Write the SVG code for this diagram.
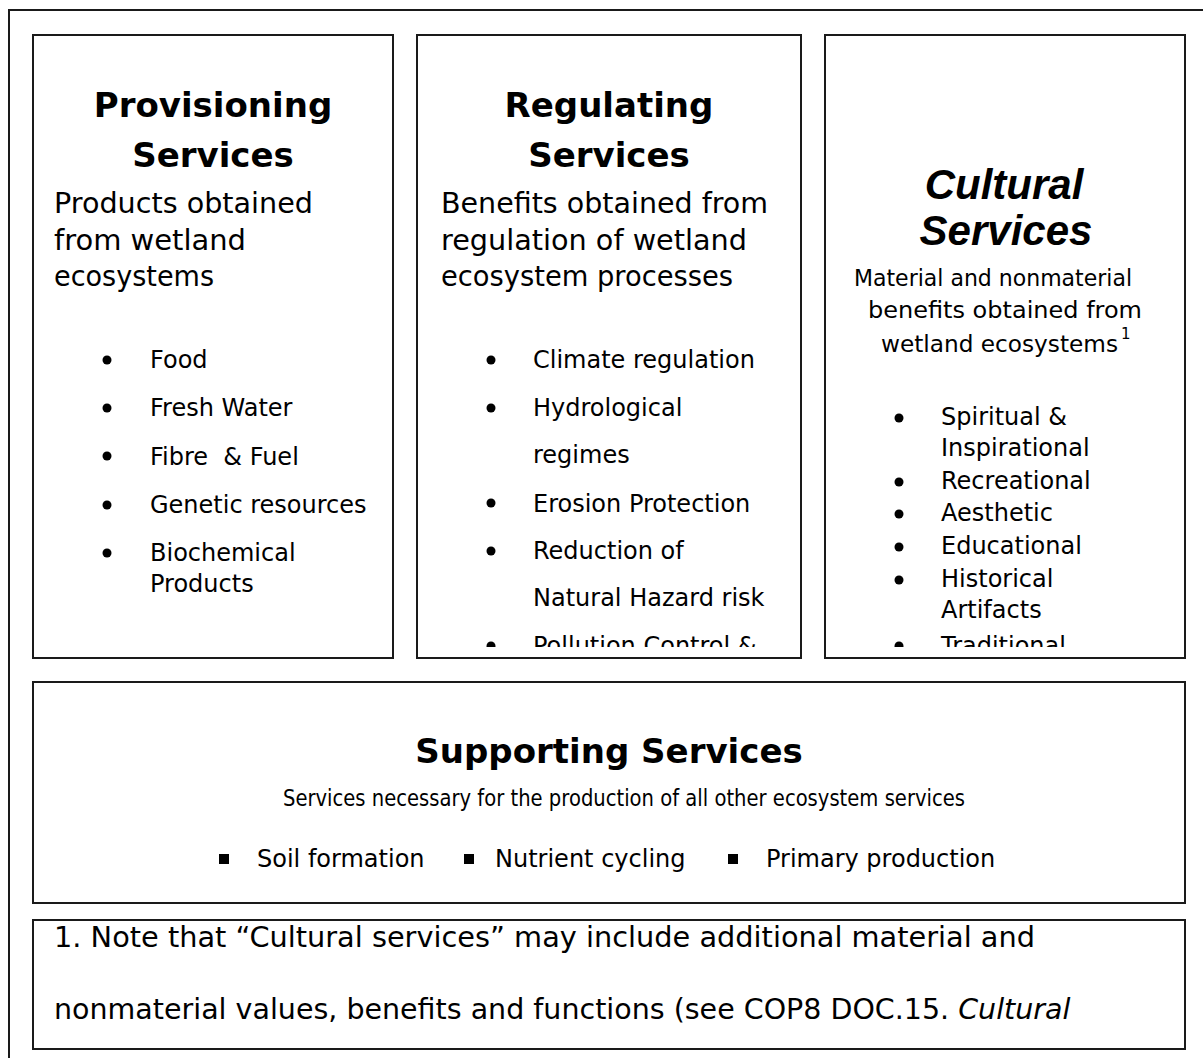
<svg xmlns="http://www.w3.org/2000/svg" width="1203" height="1058" viewBox="0 0 1203 1058">
<style>
.box{fill:#fff;stroke:#1a1a1a;stroke-width:2}
.t{font-family:"DejaVu Sans",Verdana,sans-serif;fill:#000}
.title{font-size:34px;font-weight:bold;text-anchor:middle}
.ctitle{font-family:"Liberation Sans",Arial,sans-serif;font-size:42px;font-weight:bold;font-style:italic;text-anchor:middle;fill:#000}
.sub{font-size:28.5px}
.li{font-size:24px}
.csub{font-size:23px}
.ssub{font-size:22.5px;text-anchor:middle}
.note{font-size:28.5px}
</style>
<defs>
<clipPath id="clipReg"><rect x="418" y="36" width="382" height="611"/></clipPath>
<clipPath id="clipCul"><rect x="826" y="36" width="358" height="611"/></clipPath>
</defs>
<rect x="9" y="10" width="1230" height="1080" fill="none" stroke="#1a1a1a" stroke-width="2"/>

<g id="provisioning">
<rect class="box" x="33" y="35" width="360" height="623"/>
<text class="t title" x="213" y="117">Provisioning</text>
<text class="t title" x="213" y="167">Services</text>
<text class="t sub" x="54" y="213" textLength="259" lengthAdjust="spacingAndGlyphs">Products obtained</text>
<text class="t sub" x="54" y="250" textLength="192" lengthAdjust="spacingAndGlyphs">from wetland</text>
<text class="t sub" x="54" y="286" textLength="160" lengthAdjust="spacingAndGlyphs">ecosystems</text>
<g fill="#000">
<circle cx="107" cy="360" r="4.5"/><circle cx="107" cy="408" r="4.5"/><circle cx="107" cy="456" r="4.5"/><circle cx="107" cy="505" r="4.5"/><circle cx="107" cy="553" r="4.5"/>
</g>
<text class="t li" x="150" y="368">Food</text>
<text class="t li" x="150" y="416">Fresh Water</text>
<text class="t li" x="150" y="465" xml:space="preserve">Fibre  &amp; Fuel</text>
<text class="t li" x="150" y="513">Genetic resources</text>
<text class="t li" x="150" y="561">Biochemical</text>
<text class="t li" x="150" y="592">Products</text>
</g>

<g id="regulating">
<rect class="box" x="417" y="35" width="384" height="623"/>
<text class="t title" x="609" y="117">Regulating</text>
<text class="t title" x="609" y="167">Services</text>
<text class="t sub" x="441" y="213" textLength="327" lengthAdjust="spacingAndGlyphs">Benefits obtained from</text>
<text class="t sub" x="441" y="250" textLength="306" lengthAdjust="spacingAndGlyphs">regulation of wetland</text>
<text class="t sub" x="441" y="286" textLength="292" lengthAdjust="spacingAndGlyphs">ecosystem processes</text>
<g clip-path="url(#clipReg)">
<g fill="#000">
<circle cx="491" cy="360" r="4.5"/><circle cx="491" cy="408" r="4.5"/><circle cx="491" cy="503" r="4.5"/><circle cx="491" cy="551" r="4.5"/><circle cx="491" cy="646" r="4.5"/>
</g>
<text class="t li" x="533" y="368">Climate regulation</text>
<text class="t li" x="533" y="416">Hydrological</text>
<text class="t li" x="533" y="463">regimes</text>
<text class="t li" x="533" y="512">Erosion Protection</text>
<text class="t li" x="533" y="559">Reduction of</text>
<text class="t li" x="533" y="606">Natural Hazard risk</text>
<text class="t li" x="533" y="654">Pollution Control &amp;</text>
</g>
</g>

<g id="cultural">
<rect class="box" x="825" y="35" width="360" height="623"/>
<text class="ctitle" x="1004" y="199">Cultural</text>
<text class="ctitle" x="1006" y="245">Services</text>
<text class="t csub" x="854" y="286" textLength="278" lengthAdjust="spacingAndGlyphs">Material and nonmaterial</text>
<text class="t csub" x="868" y="318" textLength="274" lengthAdjust="spacingAndGlyphs">benefits obtained from</text>
<text class="t csub" x="881" y="352" textLength="237" lengthAdjust="spacingAndGlyphs">wetland ecosystems</text>
<text class="t" x="1121" y="339" font-size="15">1</text>
<g clip-path="url(#clipCul)">
<g fill="#000">
<circle cx="899" cy="418" r="4.5"/><circle cx="899" cy="482" r="4.5"/><circle cx="899" cy="514" r="4.5"/><circle cx="899" cy="547" r="4.5"/><circle cx="899" cy="580" r="4.5"/><circle cx="899" cy="646" r="4.5"/>
</g>
<text class="t li" x="941" y="425">Spiritual &amp;</text>
<text class="t li" x="941" y="456">Inspirational</text>
<text class="t li" x="941" y="489">Recreational</text>
<text class="t li" x="941" y="521">Aesthetic</text>
<text class="t li" x="941" y="554">Educational</text>
<text class="t li" x="941" y="587">Historical</text>
<text class="t li" x="941" y="618">Artifacts</text>
<text class="t li" x="941" y="654">Traditional</text>
</g>
</g>

<g id="supporting">
<rect class="box" x="33" y="682" width="1152" height="221"/>
<text class="t title" x="609" y="763">Supporting Services</text>
<text class="t ssub" x="624" y="806" textLength="682" lengthAdjust="spacingAndGlyphs">Services necessary for the production of all other ecosystem services</text>
<g fill="#000">
<rect x="219" y="854" width="10" height="10"/><rect x="464" y="854" width="10" height="10"/><rect x="728" y="854" width="10" height="10"/>
</g>
<text class="t li" x="257" y="867">Soil formation</text>
<text class="t li" x="495" y="867">Nutrient cycling</text>
<text class="t li" x="766" y="867">Primary production</text>
</g>

<g id="note">
<rect class="box" x="33" y="920" width="1152" height="129"/>
<text class="t note" x="54" y="947" textLength="981" lengthAdjust="spacingAndGlyphs">1. Note that “Cultural services” may include additional material and</text>
<text class="t note" x="54" y="1019">nonmaterial values, benefits and functions (see COP8 DOC.15. <tspan font-style="italic">Cultural</tspan></text>
</g>
</svg>
